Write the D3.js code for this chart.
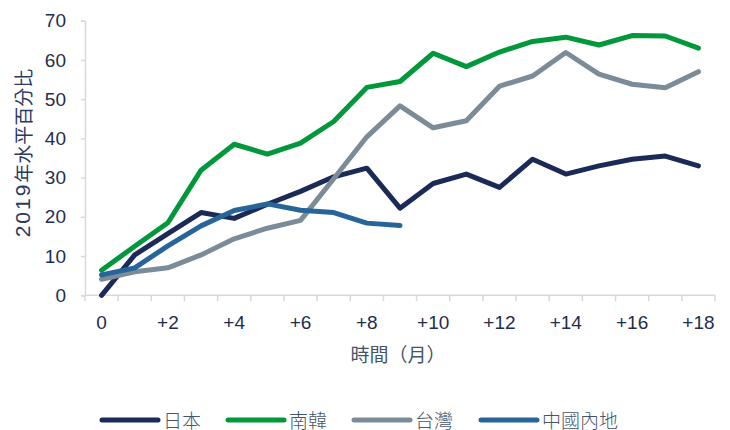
<!DOCTYPE html>
<html>
<head>
<meta charset="utf-8">
<script src="https://cdn.jsdelivr.net/npm/d3@7"></script>
<style>
  html, body { margin: 0; padding: 0; background: #ffffff; }
  svg { display: block; font-family: "Liberation Sans", Arial, "Noto Sans CJK TC", sans-serif; }
</style>
</head>
<body>
<svg id="chart" width="730" height="430"></svg>
<script>
// ---- data ----
const months = d3.range(0, 19);
const xTickLabels = ["0","","+2","","+4","","+6","","+8","","+10","","+12","","+14","","+16","","+18"];
const yTicks = [0, 10, 20, 30, 40, 50, 60, 70];
const seriesNames = ["日本", "南韓", "台灣", "中國內地"];
const japan  = [0, 10.3, 15.7, 21.1, 19.6, 23.2, 26.5, 30.2, 32.4, 22.2, 28.5, 30.9, 27.5, 34.7, 30.9, 33.0, 34.7, 35.5, 33.0];
const korea  = [6.4, 12.5, 18.5, 31.9, 38.5, 36.0, 38.8, 44.3, 53.0, 54.5, 61.7, 58.3, 62.0, 64.7, 65.8, 63.8, 66.2, 66.1, 63.0];
const taiwan = [4.1, 6.0, 7.0, 10.3, 14.4, 17.1, 19.1, 29.7, 40.4, 48.3, 42.7, 44.5, 53.3, 55.9, 61.9, 56.4, 53.8, 52.9, 57.0];
const china  = [5.2, 7.0, 12.6, 17.7, 21.6, 23.3, 21.7, 21.1, 18.4, 17.8];
const colors = ["#1b2a56", "#00983b", "#7b8b97", "#276499"];
const yTitleNum = "2019";
const yTitleText = "年水平百分比";
const xTitle = "時間（月）";

// ---- layout ----
const svg = d3.select("#chart");
const mLeft = 85, mRight = 715, mTop = 20.7, mBottom = 295.3;

const x = d3.scaleBand().domain(months).range([mLeft, mRight]).padding(0);
const y = d3.scaleLinear().domain([0, 70]).range([mBottom, mTop]);

const axisColor = "#d9d9d9";
const labelColor = "#1f2d50";
const tickFont = 19;

// y axis
const yAxis = svg.append("g").attr("transform", `translate(${mLeft},0)`)
  .call(d3.axisLeft(y).tickValues(yTicks).tickSize(4).tickPadding(15).tickFormat(d3.format("d")));
yAxis.select(".domain").attr("stroke", axisColor).attr("stroke-width", 1.5);
yAxis.selectAll(".tick line").attr("stroke", axisColor).attr("stroke-width", 1.5);
yAxis.selectAll(".tick text").attr("fill", labelColor).attr("font-size", tickFont)
  .attr("font-family", "'Liberation Sans', Arial, sans-serif");

// x axis (category axis, ticks at band boundaries, labels centered)
const xAxis = svg.append("g").attr("transform", `translate(0,${mBottom})`);
xAxis.append("line").attr("x1", mLeft).attr("x2", mRight).attr("y1", 0).attr("y2", 0)
  .attr("stroke", axisColor).attr("stroke-width", 1.5);
const boundaries = months.map(m => x(m)).concat([x(months[months.length - 1]) + x.bandwidth()]);
xAxis.selectAll("line.tk").data(boundaries).enter().append("line").attr("class", "tk")
  .attr("x1", d => d).attr("x2", d => d).attr("y1", 0).attr("y2", 6)
  .attr("stroke", axisColor).attr("stroke-width", 1.5);
xAxis.selectAll("text.lbl").data(months).enter().append("text").attr("class", "lbl")
  .attr("x", d => x(d) + x.bandwidth() / 2).attr("y", 34)
  .attr("text-anchor", "middle").attr("fill", labelColor).attr("font-size", tickFont)
  .attr("font-family", "'Liberation Sans', Arial, sans-serif")
  .text((d, i) => xTickLabels[i]);

// titles
const yt = svg.append("text").attr("transform", "translate(22,153) rotate(-90)")
  .attr("text-anchor", "middle").attr("dominant-baseline", "central")
  .attr("fill", "#2b3a5e").attr("font-size", 19);
yt.append("tspan").attr("font-size", 21).attr("letter-spacing", 2).text(yTitleNum);
yt.append("tspan").attr("font-family", "'Noto Sans CJK TC', sans-serif").text(yTitleText);

svg.append("text").attr("x", 398).attr("y", 355)
  .attr("text-anchor", "middle").attr("dominant-baseline", "central")
  .attr("fill", "#44546a").attr("font-size", 19).text(xTitle);

// lines
const allSeries = [japan, korea, taiwan, china];
const line = d3.line().x((d, i) => x(months[i]) + x.bandwidth() / 2).y(d => y(d));
allSeries.forEach((s, k) => {
  svg.append("path").datum(s).attr("d", line)
    .attr("fill", "none").attr("stroke", colors[k]).attr("stroke-width", 5)
    .attr("stroke-linecap", "round").attr("stroke-linejoin", "round");
});

// legend
const legendX = [102, 228, 354, 481];
const lg = svg.append("g");
seriesNames.forEach((name, k) => {
  lg.append("line").attr("x1", legendX[k]).attr("x2", legendX[k] + 56)
    .attr("y1", 420).attr("y2", 420).attr("stroke", colors[k]).attr("stroke-width", 5)
    .attr("stroke-linecap", "round");
  lg.append("text").attr("x", legendX[k] + 61).attr("y", 421)
    .attr("dominant-baseline", "central").attr("fill", "#44546a").attr("font-size", 19)
    .attr("font-weight", 300)
    .text(name);
});
</script>
</body>
</html>
